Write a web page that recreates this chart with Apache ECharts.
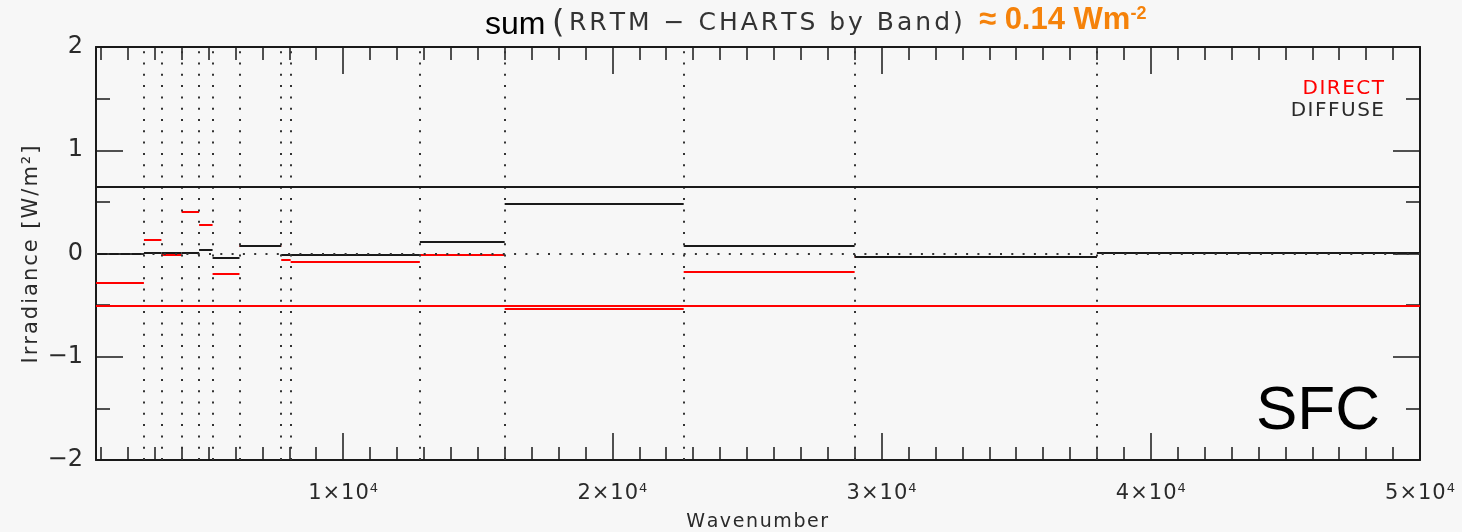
<!DOCTYPE html>
<html>
<head>
<meta charset="utf-8">
<title>sum (RRTM − CHARTS by Band)</title>
<script src="https://cdn.jsdelivr.net/npm/echarts@6/dist/echarts.min.js"></script>
<style>
  html, body { margin: 0; padding: 0; background: #f7f7f7; }
  #chart { width: 1462px; height: 532px; }
</style>
</head>
<body>
<div id="chart"></div>
<script>
// RRTM shortwave band edges (cm^-1)
const bandEdges = [820, 2600, 3250, 4000, 4650, 5150, 6150, 7700, 8050, 12850, 16000, 22650, 29000, 38000, 50000];
// RRTM minus CHARTS surface irradiance difference per band (W/m^2)
const directDiff  = [-0.287, 0.135, -0.018, 0.405, 0.28, -0.197, 0.077, -0.065, -0.084, -0.013, -0.542, -0.177, -0.032, 0.007];
const diffuseDiff = [0.0, 0.007, 0.007, 0.007, 0.032, -0.045, 0.077, -0.018, -0.013, 0.116, 0.48, 0.077, -0.032, 0.007];
// Totals over all bands
const directTotal = -0.51;
const diffuseTotal = 0.65;
const netTotal = 0.14;
// Axis ticks
const xMajorTicks = [10000, 20000, 30000, 40000, 50000];
const xMinorTicks = [1000, 2000, 3000, 4000, 5000, 6000, 7000, 8000, 9000,
  11000, 12000, 13000, 14000, 15000, 16000, 17000, 18000, 19000,
  21000, 22000, 23000, 24000, 25000, 26000, 27000, 28000, 29000,
  31000, 32000, 33000, 34000, 35000, 36000, 37000, 38000, 39000,
  41000, 42000, 43000, 44000, 45000, 46000, 47000, 48000, 49000];

const X_MIN = bandEdges[0], X_MAX = bandEdges[bandEdges.length - 1];
const INK = '#1a1a1a';
const TXT = '#2a2a2a';
const RED = '#ff0000';
const LBL_FONT = 'DejaVu Sans';

// Plot-style lettering: each glyph is its own rich fragment with extra
// tracking after it, giving the wide, airy look of vector fonts.
function tracked(str, key) {
  return Array.from(str).map(c => '{' + key + '|' + c + '}').join('');
}
function trackStyle(size, gap, color) {
  return { fontFamily: LBL_FONT, fontSize: size, color: color, fill: color, padding: [0, gap, 0, 0] };
}

function bandRows(values) {
  return values.map((v, i) => [bandEdges[i], bandEdges[i + 1], v]);
}

function segmentRenderer(color) {
  return function (params, api) {
    const a = api.coord([api.value(0), api.value(2)]);
    const b = api.coord([api.value(1), api.value(2)]);
    const y = Math.round(a[1]);
    return {
      type: 'line',
      shape: { x1: a[0], y1: y, x2: b[0], y2: y },
      style: { stroke: color, lineWidth: 2 }
    };
  };
}

const interiorEdges = bandEdges.slice(1, -1);
const dotted = { color: '#333', width: 2, type: [2, 9.3], cap: 'butt' };

function xAxisDef(position, ticks, len, showLine, showLabel, extra) {
  return Object.assign({
    type: 'value', min: X_MIN, max: X_MAX, position: position,
    axisLine: { show: showLine, onZero: false, lineStyle: { color: INK, width: 2 } },
    axisTick: { show: true, inside: true, length: len, customValues: ticks, lineStyle: { color: INK, width: 1.5 } },
    axisLabel: showLabel ? {
      show: true, customValues: xMajorTicks, margin: 22,
      formatter: v => tracked(String(v / 10000) + '×10', 'n') + '{s|4}',
      rich: {
        n: trackStyle(21, 1, TXT),
        s: { fontFamily: LBL_FONT, fontSize: 13, color: TXT, verticalAlign: 'top', padding: [0, 0, 10, 0] }
      }
    } : { show: false },
    splitLine: { show: false }
  }, extra || {});
}

function yAxisDef(position, showLabel, extra) {
  return Object.assign({
    type: 'value', min: -2, max: 2, interval: 1, position: position,
    axisLine: { show: true, onZero: false, lineStyle: { color: INK, width: 2 } },
    axisTick: { show: true, inside: true, length: 27, lineStyle: { color: INK, width: 1.5 } },
    minorTick: { show: true, splitNumber: 2, length: 14, lineStyle: { color: INK, width: 1.5 } },
    axisLabel: showLabel ? {
      show: true, margin: 13, fontFamily: LBL_FONT, fontSize: 24, color: TXT,
      formatter: v => (v < 0 ? '−' + Math.abs(v) : String(v))
    } : { show: false },
    splitLine: { show: false },
    minorSplitLine: { show: false }
  }, extra || {});
}

const chart = echarts.init(document.getElementById('chart'));
chart.setOption({
  backgroundColor: '#f7f7f7',
  animation: false,
  grid: { left: 96, right: 42, top: 47, bottom: 72, containLabel: false, outerBoundsMode: 'none' },
  xAxis: [
    xAxisDef('bottom', xMajorTicks, 27, true, true, {
      name: tracked('Wavenumber', 'w'), nameLocation: 'middle', nameGap: 53,
      nameTextStyle: { rich: { w: trackStyle(19, 1.6, TXT) } }
    }),
    xAxisDef('bottom', xMinorTicks, 13, false, false),
    xAxisDef('top', xMajorTicks, 27, true, false),
    xAxisDef('top', xMinorTicks, 13, false, false)
  ],
  yAxis: [
    yAxisDef('left', true, {
      name: tracked('Irradiance [W/m²]', 'w'), nameLocation: 'middle', nameGap: 54,
      nameMoveOverlap: false,
      nameTextStyle: { rich: { w: trackStyle(21, 2, TXT) } }
    }),
    yAxisDef('right', false)
  ],
  series: [
    {
      // band edges and zero reference
      type: 'line', data: [], silent: true,
      markLine: {
        silent: true, symbol: 'none', label: { show: false },
        lineStyle: dotted,
        data: interiorEdges.map(e => ({ xAxis: e })).concat([{ yAxis: 0 }])
      },
      z: 1
    },
    {
      name: 'DIRECT', type: 'custom', data: bandRows(directDiff),
      encode: { x: [0, 1], y: 2 }, renderItem: segmentRenderer(RED), z: 3,
      markLine: {
        silent: true, symbol: 'none', label: { show: false },
        lineStyle: { color: RED, width: 2, type: 'solid' },
        data: [{ yAxis: directTotal }]
      }
    },
    {
      name: 'DIFFUSE', type: 'custom', data: bandRows(diffuseDiff),
      encode: { x: [0, 1], y: 2 }, renderItem: segmentRenderer(INK), z: 4,
      markLine: {
        silent: true, symbol: 'none', label: { show: false },
        lineStyle: { color: INK, width: 2, type: 'solid' },
        data: [{ yAxis: diffuseTotal }]
      }
    }
  ],
  graphic: [
    {
      type: 'text', left: 485, top: 9, z: 10,
      style: { text: 'sum', fontFamily: 'Liberation Sans', fontSize: 32, fill: '#000' }
    },
    {
      type: 'text', left: 552, top: 8, z: 10,
      style: { text: '(', fontFamily: LBL_FONT, fontSize: 32, fill: '#333' }
    },
    {
      type: 'text', left: 569, top: 11, z: 10,
      style: { text: tracked('RRTM − CHARTS by Band)', 't'), rich: { t: trackStyle(25, 3, '#333') } }
    },
    {
      type: 'text', left: 979, top: 5, z: 10,
      style: {
        text: '{d|≈ ' + netTotal.toFixed(2) + ' Wm}{e|-2}',
        rich: {
          d: { fontFamily: 'Liberation Sans', fontWeight: 'bold', fontSize: 31, fill: '#f5820a', verticalAlign: 'bottom' },
          e: { fontFamily: 'Liberation Sans', fontWeight: 'bold', fontSize: 18, fill: '#f5820a', verticalAlign: 'top' }
        }
      }
    },
    {
      type: 'text', right: 1462 - 1384, top: 79, z: 10,
      style: { text: tracked('DIRECT', 'l'), rich: { l: trackStyle(20, 1.5, RED) } }
    },
    {
      type: 'text', right: 1462 - 1384, top: 101, z: 10,
      style: { text: tracked('DIFFUSE', 'l'), rich: { l: trackStyle(20, 1.5, TXT) } }
    },
    {
      type: 'text', right: 1462 - 1380, top: 381, z: 10,
      style: { text: 'SFC', fontFamily: 'Liberation Sans', fontSize: 62, fill: '#000' }
    }
  ]
});
</script>
</body>
</html>
